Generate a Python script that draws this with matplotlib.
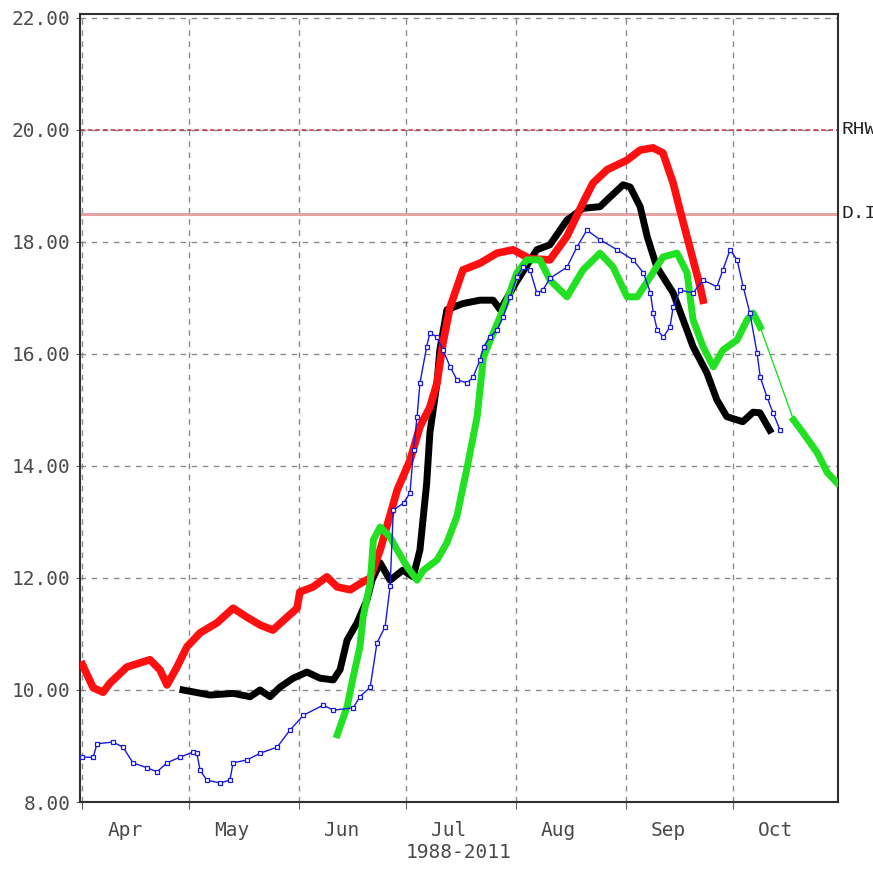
import numpy as np
import matplotlib.pyplot as plt

# x = days since 1 April, y = value
red_days = [0, 3, 5.8, 7.7, 12.5, 19, 21.8, 23.8, 26.6, 29.4, 33.1, 37.9, 42.4, 46.3, 50, 53.6,
            57.6, 60.4, 61.2, 64.9, 68.8, 71.7, 75.4, 78.2, 81, 83.8, 88.6, 92.2, 95, 97.8, 99.8,
            101.5, 103.5, 107.1, 111.9, 116.7, 121.2, 126, 131.6, 136.4, 140.9, 143.7, 147.7,
            153.3, 157, 160.6, 163.4, 166.3, 168.2, 170.2, 171.9, 173.9, 174.7]
red_vals = [10.45, 10.04, 9.96, 10.12, 10.41, 10.54, 10.36, 10.09, 10.41, 10.77, 11.02, 11.2, 11.46,
            11.3, 11.16, 11.07, 11.3, 11.46, 11.75, 11.84, 12.02, 11.84, 11.79, 11.9, 12.0, 12.5,
            13.57, 14.1, 14.7, 15.05, 15.48, 16.2, 16.84, 17.5, 17.62, 17.8, 17.86, 17.7, 17.68,
            18.1, 18.7, 19.05, 19.29, 19.46, 19.64, 19.68, 19.59, 19.05, 18.57, 18.09, 17.68,
            17.2, 16.96]

black_days = [28.3, 35.9, 42.4, 47.2, 50, 52.8, 55.6, 59.3, 63.2, 66.9, 70.6, 72.5, 74.5, 77.3,
              80.1, 81.5, 83.8, 86.6, 90.2, 93.1, 95, 96.9, 97.8, 99.8, 100.6, 102.6, 107.1,
              111.9, 115.6, 117.6, 122.3, 127.9, 131.6, 136.4, 140.9, 145.7, 148.5, 152.2,
              154.2, 157, 159, 161.7, 166.3, 169.1, 171.9, 175.8, 178.6, 181.4, 185.9, 188.8,
              190.7, 193.5]
black_vals = [10.0, 9.91, 9.94, 9.88, 10.0, 9.88, 10.05, 10.21, 10.32, 10.21, 10.18, 10.36, 10.89,
              11.2, 11.61, 11.96, 12.27, 11.96, 12.14, 12.02, 12.5, 13.69, 14.59, 15.48, 16.07,
              16.79, 16.9, 16.96, 16.96, 16.79, 17.3, 17.86, 17.95, 18.39, 18.6, 18.63, 18.8,
              19.02, 18.98, 18.63, 18.09, 17.55, 17.09, 16.61, 16.13, 15.66, 15.18, 14.88,
              14.79, 14.96, 14.95, 14.64]

blue_days = [0, 3, 4.1, 8.6, 11.4, 14.2, 18.2, 21, 23.8, 27.4, 31.1, 32.2, 33.1, 35, 38.7, 41.5,
             42.4, 46.3, 50, 54.8, 58.5, 62.2, 67.8, 70.6, 76.2, 78.1, 81, 82.9, 85.2, 86.6,
             87.5, 90.4, 92.2, 93.2, 94.2, 95, 96.9, 97.8, 99.8, 101.5, 103.5, 105.4, 108.3,
             110, 111.9, 112.9, 114.7, 116.7, 118.4, 120.4, 122.3, 124, 126, 127.9, 129.6,
             131.6, 136.4, 139.2, 142, 145.7, 150.5, 155, 157.9, 159.9, 160.7, 161.8, 163.5,
             165.4, 166.3, 168.3, 171.9, 174.7, 178.6, 180.3, 182.3, 184.3, 186, 187.9, 189.9,
             190.8, 192.7, 194.4, 196.4]
blue_vals = [8.8, 8.8, 9.04, 9.07, 8.98, 8.7, 8.61, 8.54, 8.7, 8.8, 8.89, 8.87, 8.57, 8.39, 8.34,
             8.39, 8.7, 8.75, 8.87, 8.98, 9.29, 9.55, 9.73, 9.64, 9.68, 9.88, 10.05, 10.84,
             11.13, 11.85, 13.21, 13.34, 13.52, 14.29, 14.88, 15.48, 16.13, 16.38, 16.3, 16.07,
             15.77, 15.54, 15.48, 15.59, 15.89, 16.13, 16.3, 16.43, 16.66, 17.02, 17.38, 17.55,
             17.5, 17.09, 17.14, 17.35, 17.55, 17.91, 18.21, 18.04, 17.86, 17.68, 17.45, 17.09,
             16.73, 16.43, 16.3, 16.48, 16.84, 17.14, 17.09, 17.32, 17.2, 17.5, 17.86, 17.68,
             17.2, 16.73, 16.02, 15.59, 15.23, 14.95, 14.64]

green_days = [71.7, 74.5, 76.2, 78.1, 79, 81, 81.9, 83.8, 86.6, 88.6, 91.4, 94.2, 96, 99.8, 102.6,
              105.4, 108.3, 111.1, 112.9, 115.7, 119.5, 122.3, 125.1, 128.8, 131.6, 136.4,
              140.9, 145.7, 149.4, 153.3, 156.2, 159.9, 163.4, 167.4, 170.2, 171.9, 174.7,
              177.6, 180.3, 184.3, 187.1, 188.8, 190.8, 200.2, 202.9, 206.9, 209.7, 212.4]
green_vals = [9.2, 9.7, 10.23, 10.77, 11.3, 11.91, 12.68, 12.91, 12.73, 12.5, 12.2, 11.96, 12.14,
              12.32, 12.63, 13.1, 13.98, 14.88, 15.95, 16.38, 16.96, 17.45, 17.68, 17.68, 17.32,
              17.02, 17.5, 17.8, 17.55, 17.02, 17.02, 17.38, 17.73, 17.8, 17.45, 16.61, 16.13,
              15.77, 16.07, 16.25, 16.61, 16.73, 16.48, 14.82, 14.59, 14.23, 13.88, 13.7]
green_gap = 42  # thin connecting segment after this index

months = ['Apr', 'May', 'Jun', 'Jul', 'Aug', 'Sep', 'Oct']
month_starts = [0, 30, 61, 91, 122, 153, 183]
ref_levels = [20.0, 18.5]
ref_labels = ['RHW', 'D.I']

fig = plt.figure(figsize=(8.73, 8.71), dpi=100)
ax = fig.add_axes([80 / 873, 1 - 802 / 871, 758 / 873, 788 / 871])

ax.set_xlim(-0.7, 212.7)
ax.set_ylim(8, 22.07)

# reference lines
ax.axhline(ref_levels[0], color='#c0304a', linestyle=(0, (3, 2)), linewidth=1.1, zorder=2)
ax.axhline(ref_levels[1], color='#e4a4a4', linewidth=2.2, zorder=2)
for lev, lab in zip(ref_levels, ref_labels):
    ax.text(1.004, lev, lab, transform=ax.get_yaxis_transform(), va='center', ha='left',
            family='Liberation Mono', fontsize=14, color='#202020', clip_on=False)

# series
ax.plot(black_days, black_vals, color='black', linewidth=5, solid_joinstyle='round', zorder=3)
ax.plot(red_days, red_vals, color='#ff1010', linewidth=5.5, solid_joinstyle='round', zorder=4)
ax.plot(green_days, green_vals, color='#22e022', linewidth=1, zorder=5)
ax.plot(green_days[:green_gap + 1], green_vals[:green_gap + 1], color='#22e022', linewidth=5,
        solid_joinstyle='round', zorder=5)
ax.plot(green_days[green_gap + 1:], green_vals[green_gap + 1:], color='#22e022', linewidth=5,
        solid_joinstyle='round', zorder=5)
ax.plot(blue_days, blue_vals, color='#1818e0', linewidth=1, marker='s', markersize=3.2,
        markerfacecolor='white', markeredgecolor='#1818e0', markeredgewidth=0.9, zorder=6)

# axes & grid
ax.set_yticks(np.arange(8, 23, 2))
ax.set_yticklabels(['%.2f' % v for v in np.arange(8, 23, 2)])
ax.set_xticks(month_starts)
ax.set_xticklabels([])
ax.set_xticks([m + 12 for m in month_starts], minor=True)
ax.set_xticklabels(months, minor=True)
ax.tick_params(axis='x', which='minor', length=0, pad=14)
ax.tick_params(axis='x', which='major', length=5, direction='out', color='#606060')
ax.tick_params(axis='y', length=3, pad=4, color='#606060')
for lab in ax.get_xticklabels(minor=True) + ax.get_yticklabels():
    lab.set_family('DejaVu Sans Mono')
    lab.set_fontsize(14)
    lab.set_color('#4a4a4a')
ax.grid(True, which='major', linestyle=(0, (4, 4)), color='#8a8a8a', linewidth=1)
ax.set_axisbelow(True)
for s in ax.spines.values():
    s.set_linewidth(1.5)
    s.set_color('#303030')

ax.set_xlabel('1988-2011', family='DejaVu Sans Mono', fontsize=14, color='#4a4a4a', labelpad=2)

plt.savefig('out.png', dpi=100)
